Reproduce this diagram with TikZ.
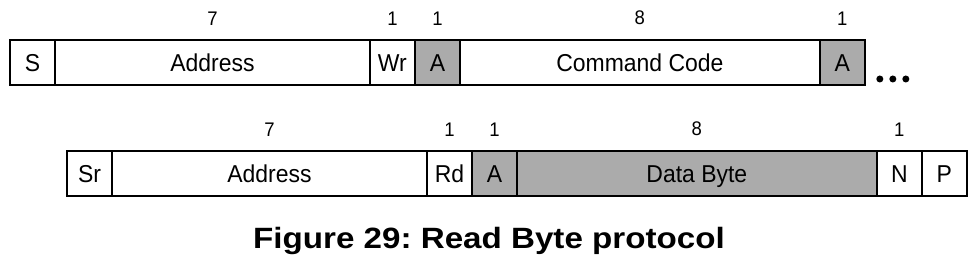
\documentclass[tikz,border=0pt]{standalone}
\usepackage{fontspec}
\setmainfont{Liberation Sans}
\newfontfamily\fieldfont[FakeStretch=0.94]{Liberation Sans}
\newfontfamily\captionfont[FakeStretch=1.13]{Liberation Sans}
\usetikzlibrary{positioning}
\definecolor{ackgray}{HTML}{ABABAB}
\tikzset{
    field/.style={
        rectangle, draw=black, line width=0.9pt,
        minimum width=#1*0.9cm, minimum height=0.9cm,
        inner sep=0pt, outer sep=0pt,
        text height=9.9pt, text depth=0pt,
        font=\fieldfont\fontsize{13.9}{15}\selectfont
    },
    field/.default=1,
    acked/.style={fill=ackgray},
    bitcount/.style={
        font=\fieldfont\fontsize{11.2}{13}\selectfont, inner sep=0pt
    },
    caption/.style={
        font=\captionfont\fontsize{16.7}{20}\selectfont\bfseries\frenchspacing,
        inner sep=0pt
    },
}

\begin{document}
\begin{tikzpicture}[x=0.02cm, y=-0.02cm, label distance=8.3pt]

    \useasboundingbox (0,0) rectangle (980,261);

    % Write part: slave address, command code
    \node[field, anchor=north west] (start) at (10,40) {S};
    \node[field=7, right=0pt of start, label={[bitcount]above:7}] (addrw) {Address};
    \node[field, right=0pt of addrw, label={[bitcount]above:1}] (wr) {Wr};
    \node[field, acked, right=0pt of wr, label={[bitcount]above:1}] (ackone) {A};
    \node[field=8, right=0pt of ackone, label={[bitcount]above:8}] (cmd) {Command Code};
    \node[field, acked, right=0pt of cmd, label={[bitcount]above:1}] (acktwo) {A};
    \coordinate[above right=0.12cm and 0.3cm of acktwo.south east] (more);
    \foreach \dx in {0,13,26}
        \fill ([xshift=\dx*0.02cm]more) circle (0.07cm);

    % Read part: repeated start, data byte
    \node[field, anchor=north west] (restart) at (67,151) {Sr};
    \node[field=7, right=0pt of restart, label={[bitcount]above:7}] (addrr) {Address};
    \node[field, right=0pt of addrr, label={[bitcount]above:1}] (rd) {Rd};
    \node[field, acked, right=0pt of rd, label={[bitcount]above:1}] (ackthree) {A};
    \node[field=8, acked, right=0pt of ackthree, label={[bitcount]above:8}] (data) {Data Byte};
    \node[field, right=0pt of data, label={[bitcount]above:1}] (nack) {N};
    \node[field, right=0pt of nack] (stop) {P};

    \node[caption, anchor=base] (title) at (489,248) {Figure 29: Read Byte protocol};

\end{tikzpicture}
\end{document}
